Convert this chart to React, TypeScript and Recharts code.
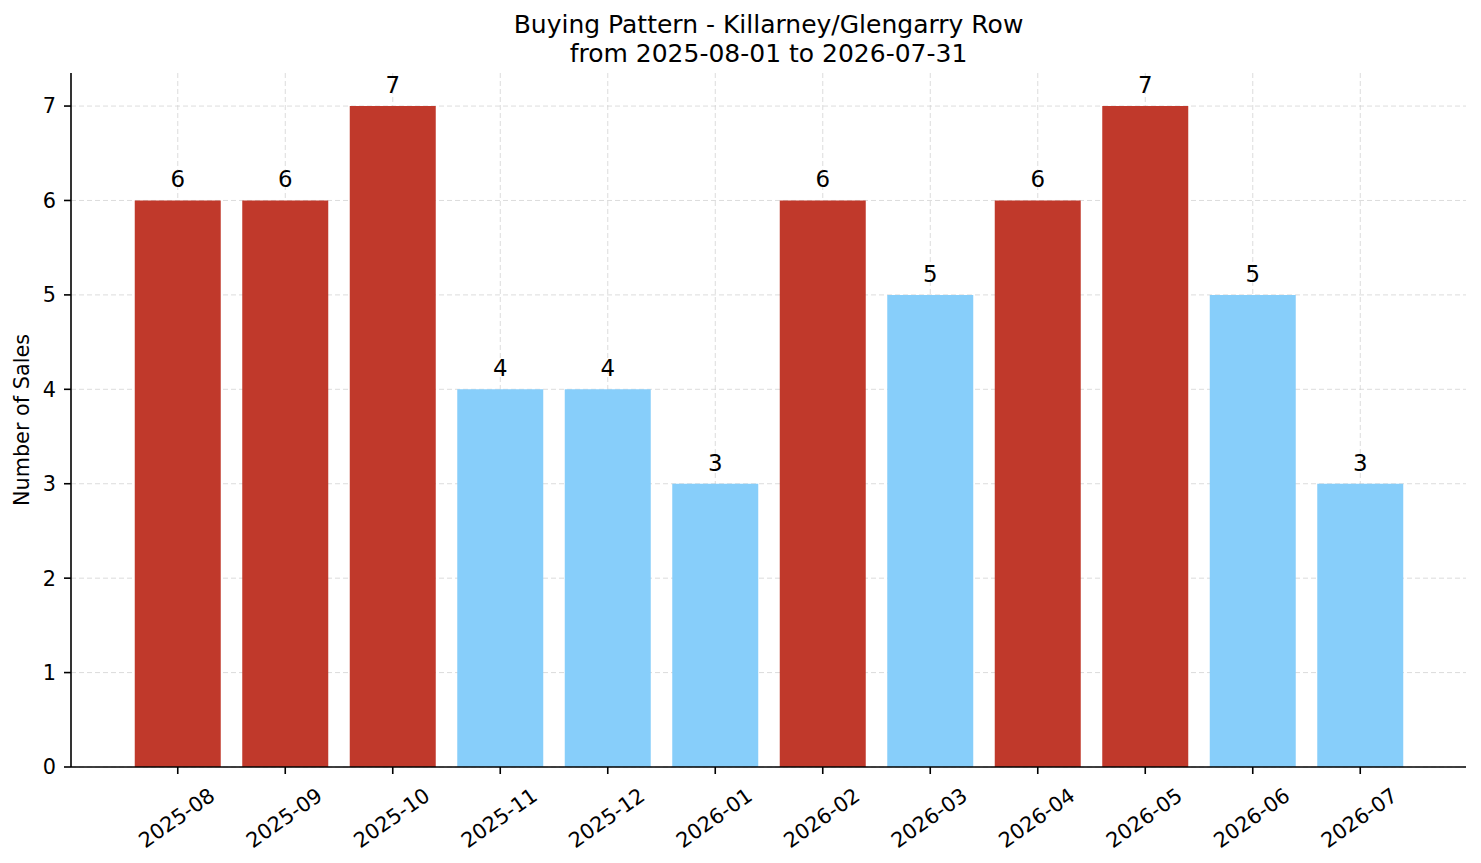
import React from 'react';
import { BarChart, Bar, XAxis, YAxis, CartesianGrid, Cell, LabelList } from 'recharts';

const months = [
  '2025-08', '2025-09', '2025-10', '2025-11', '2025-12', '2026-01',
  '2026-02', '2026-03', '2026-04', '2026-05', '2026-06', '2026-07',
];
const sales = [6, 6, 7, 4, 4, 3, 6, 5, 6, 7, 5, 3];
const yTicks = [0, 1, 2, 3, 4, 5, 6, 7];

const HIGH = '#c0392b';
const LOW = '#87cefa';
const FONT = '"DejaVu Sans", sans-serif';

const data = months.map((m, i) => ({ month: m, sales: sales[i] }));

const MonthTick = (props: any) => {
  const { x, y, payload } = props;
  return (
    <g transform={`translate(${x - 1},${y + 42})`}>
      <text
        transform="rotate(-35)"
        textAnchor="middle"
        dominantBaseline="central"
        fontFamily={FONT}
        fontSize={20.8}
        fill="#000"
      >
        {payload.value}
      </text>
    </g>
  );
};

const YLabel = (props: any) => {
  const vb = props.viewBox || { y: 73, height: 694 };
  const cy = vb.y + vb.height / 2;
  return (
    <text
      x={22}
      y={cy}
      transform={`rotate(-90, 22, ${cy})`}
      textAnchor="middle"
      dominantBaseline="central"
      fontFamily={FONT}
      fontSize={20.8}
      fill="#000"
    >
      Number of Sales
    </text>
  );
};

export default function App() {
  return (
    <div style={{ position: 'absolute', left: 0, top: 0, width: 1481, height: 863, background: '#fff' }}>
      <div
        style={{
          position: 'absolute',
          left: 71,
          width: 1395,
          top: 10,
          textAlign: 'center',
          fontFamily: FONT,
          fontSize: 25,
          lineHeight: '29px',
          color: '#000',
        }}
      >
        <div>Buying Pattern - Killarney/Glengarry Row</div>
        <div>from 2025-08-01 to 2026-07-31</div>
      </div>
      <BarChart
        width={1481}
        height={863}
        data={data}
        margin={{ top: 73, right: 15, bottom: 0, left: 0 }}
        barCategoryGap="10%"
      >
        <XAxis
          dataKey="month"
          height={96}
          padding={{ left: 53, right: 52 }}
          tick={<MonthTick />}
          tickSize={7}
          axisLine={{ stroke: '#000', strokeWidth: 1.6 }}
          tickLine={{ stroke: '#000', strokeWidth: 1.6 }}
          interval={0}
        />
        <YAxis
          width={71}
          domain={[0, 7.35]}
          ticks={yTicks}
          allowDataOverflow
          tickSize={7}
          tickMargin={8}
          tick={{ fontFamily: FONT, fontSize: 20.8, fill: '#000' }}
          axisLine={{ stroke: '#000', strokeWidth: 1.6 }}
          tickLine={{ stroke: '#000', strokeWidth: 1.6 }}
          label={<YLabel />}
        />
        <Bar dataKey="sales" isAnimationActive={false}>
          {data.map((d) => (
            <Cell key={d.month} fill={d.sales >= 6 ? HIGH : LOW} />
          ))}
          <LabelList
            dataKey="sales"
            position="top"
            offset={13}
            style={{ fontFamily: FONT, fontSize: 22.9, fill: '#000' }}
          />
        </Bar>
        <CartesianGrid stroke="#d3d3d3" strokeDasharray="5 3" strokeWidth={0.8} syncWithTicks />
      </BarChart>
    </div>
  );
}
